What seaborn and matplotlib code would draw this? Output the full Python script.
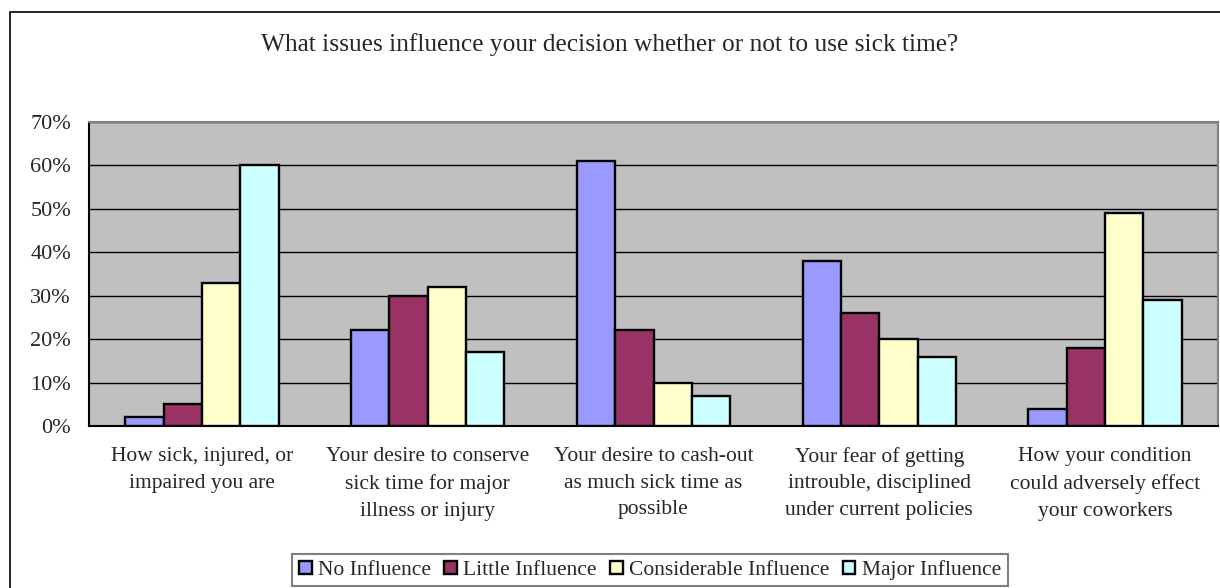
import numpy as np
import pandas as pd
import seaborn as sns
from matplotlib import pyplot as plt
from matplotlib.patches import Rectangle
from matplotlib.ticker import FuncFormatter, FixedLocator

issues = [
    'How sick, injured, or\nimpaired you are',
    'Your desire to conserve\nsick time for major\nillness or injury',
    'Your desire to cash-out\nas much sick time as\npossible',
    'Your fear of getting\nintrouble, disciplined\nunder current policies',
    'How your condition\ncould adversely effect\nyour coworkers',
]
levels = ['No Influence', 'Little Influence', 'Considerable Influence', 'Major Influence']
no_influence = [2, 22, 61, 38, 4]
little_influence = [5, 30, 22, 26, 18]
considerable_influence = [33, 32, 10, 20, 49]
major_influence = [60, 17, 7, 16, 29]
colors = ['#9999FF', '#993366', '#FFFFCC', '#CCFFFF']

series = [no_influence, little_influence, considerable_influence, major_influence]
df = pd.DataFrame([
    {'issue': issue, 'level': lvl, 'pct': vals[i]}
    for lvl, vals in zip(levels, series)
    for i, issue in enumerate(issues)
])

sns.set_style('white')
plt.rcParams['font.family'] = ['Liberation Serif', 'DejaVu Serif']
plt.rcParams['font.size'] = 15.5

fig = plt.figure(figsize=(12.2, 5.88), dpi=100)
ax = fig.add_axes([89 / 1220, 1 - 426 / 588, (1218 - 89) / 1220, (426 - 122) / 588])
ax.set_facecolor('#C0C0C0')

sns.barplot(data=df, x='issue', y='pct', hue='level', hue_order=levels,
            palette=colors, saturation=1, width=0.68, edgecolor='black',
            linewidth=1.7, ax=ax, zorder=3)

ax.set_ylim(0, 70)
ax.set_xlim(-0.5, len(issues) - 0.5)
ax.set_yticks(np.arange(0, 71, 10))
ax.yaxis.set_major_formatter(FuncFormatter(lambda v, p: f'{v:.0f}%'))
ax.grid(axis='y', color='black', linewidth=1, zorder=1)
ax.set_axisbelow(True)
ax.set_xlabel('')
ax.set_ylabel('')

ax.tick_params(axis='y', direction='out', length=5, width=1, color='black', pad=8, labelsize=16)
ax.tick_params(axis='x', which='major', length=0, pad=15, labelsize=15.5)
ax.xaxis.set_minor_locator(FixedLocator(np.arange(0.5, len(issues), 1)))
ax.tick_params(axis='x', which='minor', direction='in', length=5, width=1, color='black')
for lab in ax.get_xticklabels():
    lab.set_linespacing(1.55)

for side in ['left', 'bottom']:
    ax.spines[side].set_color('black')
    ax.spines[side].set_linewidth(1.5)
for side in ['top', 'right']:
    ax.spines[side].set_color('#808080')
    ax.spines[side].set_linewidth(1.5)

handles, labels = ax.get_legend_handles_labels()
ax.get_legend().remove()
leg = fig.legend(handles, labels, loc='center', bbox_to_anchor=(650 / 1220, 1 - 570 / 588),
                 ncol=4, fancybox=False, edgecolor='#808080', fontsize=15.5,
                 handlelength=0.6, handleheight=0.6, handletextpad=0.3,
                 columnspacing=0.6, borderpad=0.3, framealpha=1)
leg.get_frame().set_linewidth(1.5)

fig.text(0.5, 1 - 45 / 588, 'What issues influence your decision whether or not to use sick time?',
         ha='center', va='center', fontsize=18.3)

fig.add_artist(Rectangle((10 / 1220, -0.1), 1.2, 1 - 12 / 588 + 0.1, transform=fig.transFigure,
                         fill=False, edgecolor='black', linewidth=1.2, clip_on=False))

fig.savefig('out.png', dpi=100)
